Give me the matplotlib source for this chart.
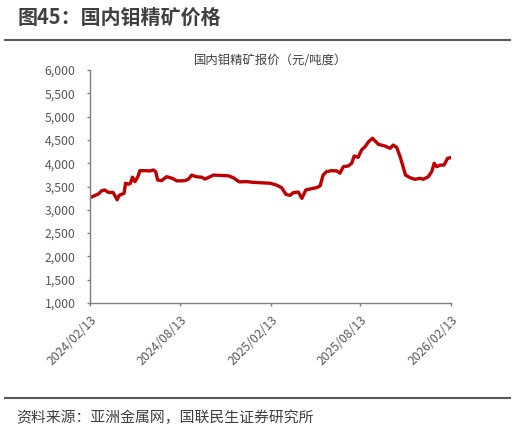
import matplotlib
matplotlib.use("Agg")
import matplotlib.pyplot as plt
import matplotlib.ticker as mticker
import pandas as pd

plt.rcParams["font.family"] = ["Noto Sans CJK SC", "DejaVu Sans"]

# 国内钼精矿报价（元/吨度）
dates = [
    "2024-02-13", "2024-03-01", "2024-03-08", "2024-03-14", "2024-03-21", "2024-03-31",
    "2024-04-08", "2024-04-12", "2024-04-22", "2024-04-25", "2024-05-01", "2024-05-05",
    "2024-05-09", "2024-05-14", "2024-05-20", "2024-05-24", "2024-06-03", "2024-06-14",
    "2024-06-20", "2024-06-25", "2024-06-29", "2024-07-07", "2024-07-17", "2024-07-29",
    "2024-08-07", "2024-08-23", "2024-08-30", "2024-09-06", "2024-09-15", "2024-09-26",
    "2024-10-03", "2024-10-20", "2024-11-19", "2024-11-29", "2024-12-11", "2024-12-26",
    "2025-01-08", "2025-01-25", "2025-02-12", "2025-02-25", "2025-03-07", "2025-03-16",
    "2025-03-24", "2025-03-31", "2025-04-10", "2025-04-17", "2025-04-25", "2025-05-07",
    "2025-05-17", "2025-05-24", "2025-05-30", "2025-06-06", "2025-06-16", "2025-06-27",
    "2025-07-03", "2025-07-10", "2025-07-20", "2025-07-27", "2025-08-01", "2025-08-09",
    "2025-08-16", "2025-08-23", "2025-08-30", "2025-09-07", "2025-09-14", "2025-09-19",
    "2025-10-02", "2025-10-13", "2025-10-19", "2025-10-26", "2025-11-02", "2025-11-08",
    "2025-11-13", "2025-11-22", "2025-12-02", "2025-12-12", "2025-12-19", "2025-12-29",
    "2026-01-05", "2026-01-10", "2026-01-15", "2026-01-22", "2026-01-30", "2026-02-06",
    "2026-02-13",
]
prices = [
    3260, 3340, 3410, 3425, 3375, 3370,
    3215, 3310, 3355, 3570, 3550, 3570,
    3700, 3605, 3710, 3840, 3840, 3835,
    3855, 3820, 3640, 3625, 3710, 3675,
    3620, 3625, 3655, 3745, 3710, 3700,
    3660, 3745, 3730, 3690, 3600, 3605,
    3590, 3580, 3570, 3530, 3475, 3330,
    3310, 3370, 3380, 3245, 3425, 3455,
    3475, 3515, 3745, 3820, 3840, 3835,
    3785, 3925, 3940, 4000, 4155, 4125,
    4285, 4355, 4460, 4535, 4460, 4405,
    4370, 4320, 4390, 4340, 4140, 3925,
    3745, 3690, 3655, 3675, 3655, 3710,
    3820, 4000, 3925, 3960, 3960, 4105,
    4120,
]
tick_dates = ["2024-02-13", "2024-08-13", "2025-02-13", "2025-08-13", "2026-02-13"]
tick_labels = ["2024/02/13", "2024/08/13", "2025/02/13", "2025/08/13", "2026/02/13"]

x = pd.to_datetime(dates)
xt = pd.to_datetime(tick_dates)

fig = plt.figure(figsize=(5.16, 4.33), dpi=100)
ax = fig.add_axes([0.1744, 0.3002, 0.6996, 0.5381])

ax.plot(x, prices, color="#C00000", linewidth=2.4, solid_joinstyle="round")

ax.set_ylim(1000, 6000)
ax.set_yticks(range(1000, 6001, 500))
ax.yaxis.set_major_formatter(mticker.FuncFormatter(lambda v, p: f"{int(v):,}"))
ax.set_xlim(xt[0], xt[-1])
ax.set_xticks(xt)
ax.set_xticklabels(tick_labels, rotation=45, ha="right", va="top",
                   rotation_mode="anchor")

for s in ["top", "right"]:
    ax.spines[s].set_visible(False)
for s in ["left", "bottom"]:
    ax.spines[s].set_color("#7f7f7f")
    ax.spines[s].set_linewidth(1.0)
ax.tick_params(axis="both", colors="#7f7f7f", labelcolor="#595959",
               labelsize=8.8, length=2.5, width=1.0, direction="out")
ax.tick_params(axis="y", pad=8)
ax.tick_params(axis="x", pad=5)

ax.set_title("国内钼精矿报价（元/吨度）", fontsize=8.9, color="#404040", pad=4)

# 标题和上下分隔线
fig.text(18 / 516, 1 - 17 / 433, "图45：国内钼精矿价格", fontsize=14.4,
         fontweight="bold", color="#404040", ha="left", va="center")
fig.add_artist(plt.Line2D([5 / 516, 510 / 516], [1 - 40 / 433, 1 - 40 / 433],
                          color="#595959", linewidth=1.5))
fig.add_artist(plt.Line2D([5 / 516, 510 / 516], [1 - 398 / 433, 1 - 398 / 433],
                          color="#595959", linewidth=1.5))
fig.text(16 / 516, 1 - 418 / 433, "资料来源：亚洲金属网，国联民生证券研究所",
         fontsize=10.7, color="#404040", ha="left", va="center")

fig.savefig("out.png", dpi=100)
